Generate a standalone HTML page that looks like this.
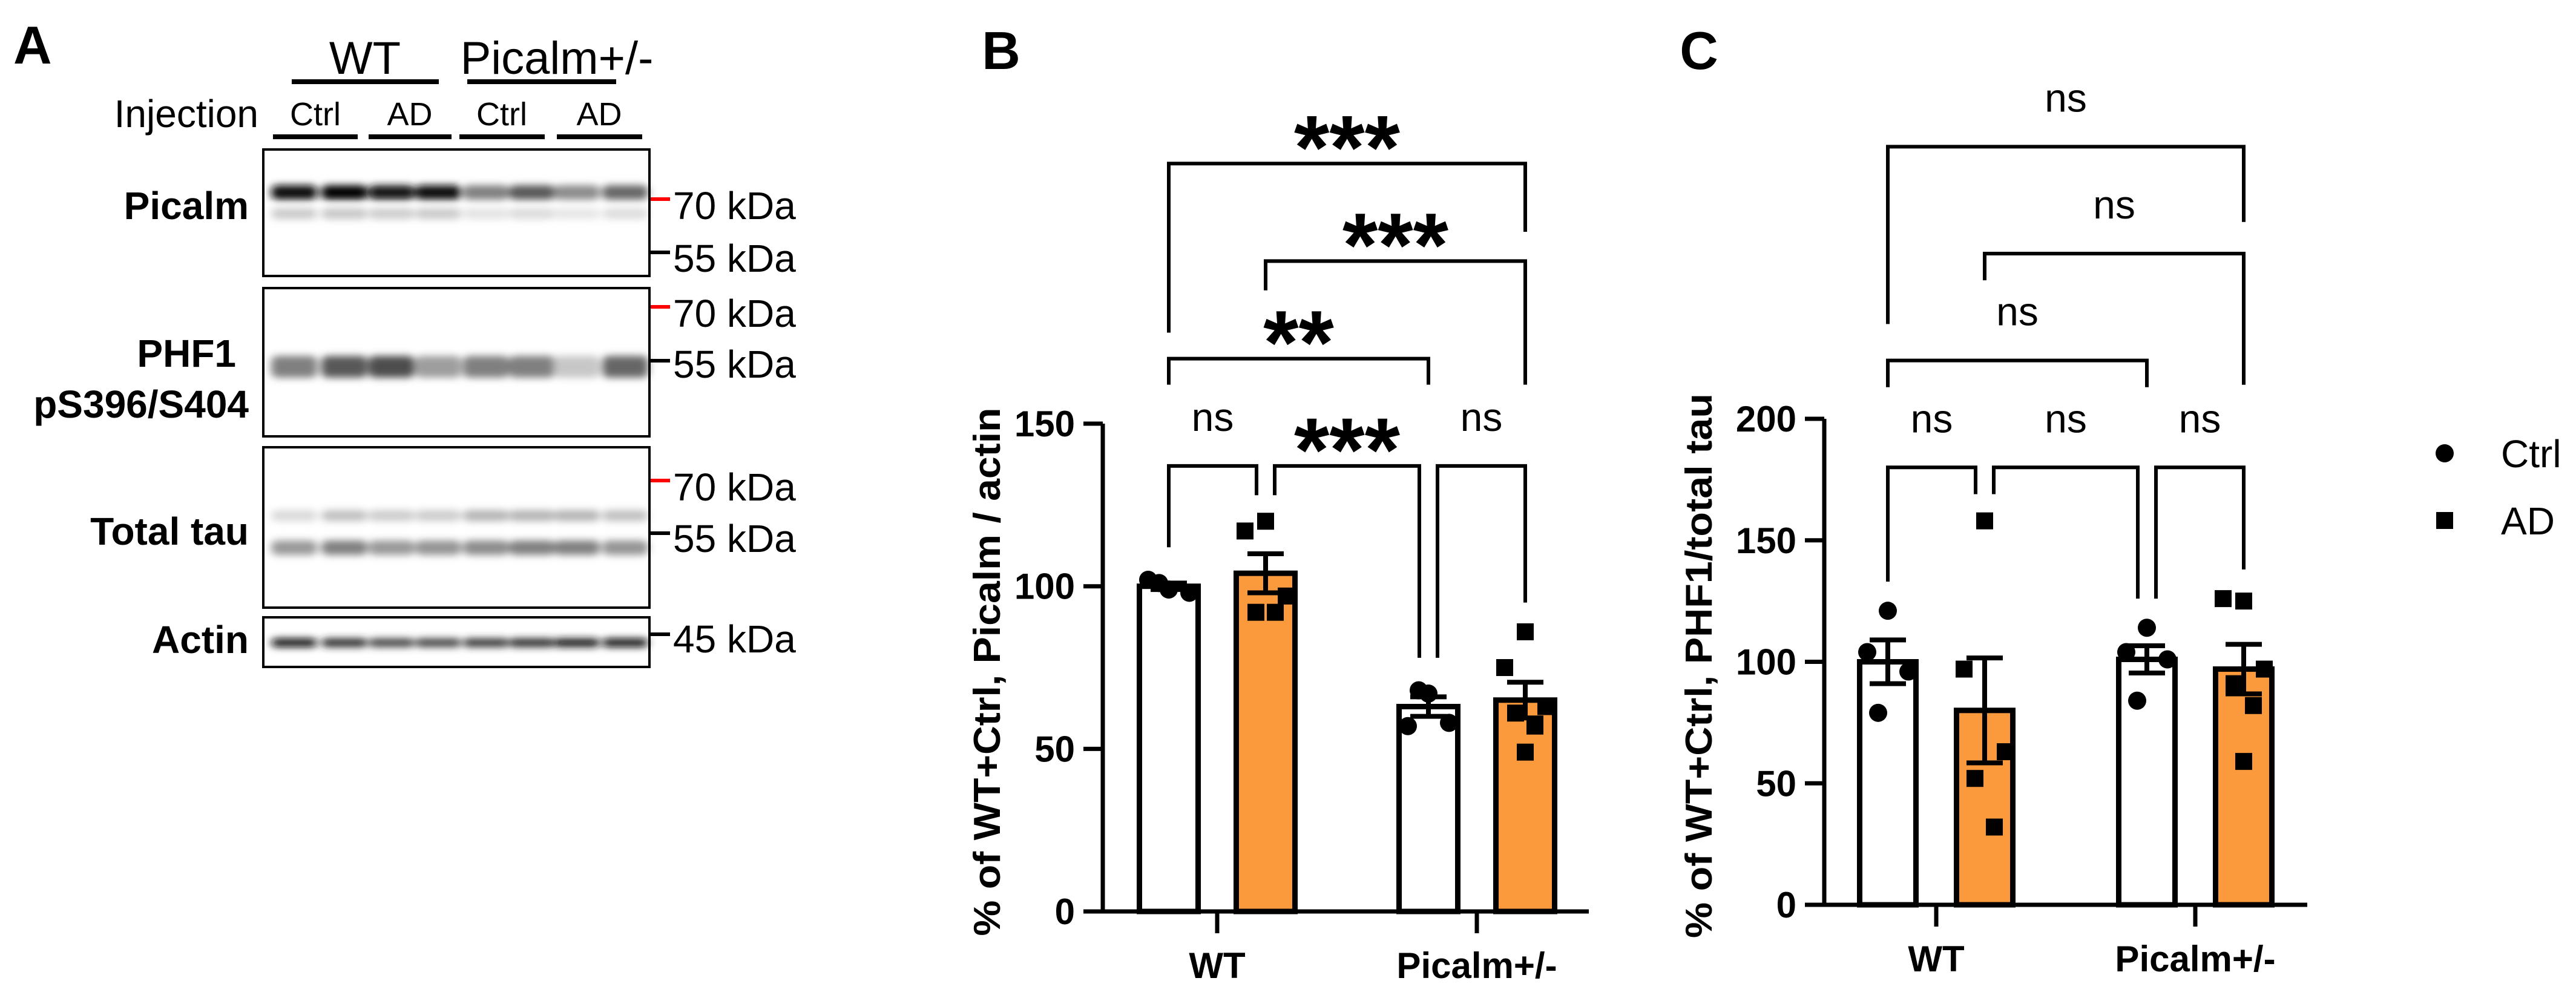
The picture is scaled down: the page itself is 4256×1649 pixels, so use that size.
<!DOCTYPE html>
<html><head><meta charset="utf-8"><style>
html,body{margin:0;padding:0;background:#fff;}
svg{display:block;font-family:"Liberation Sans",sans-serif;}
</style></head><body>
<svg id="fig" width="4256" height="1649" viewBox="0 0 4256 1649" xmlns="http://www.w3.org/2000/svg">
<defs>
<filter id="blur" x="-20%" y="-100%" width="140%" height="300%"><feGaussianBlur stdDeviation="7 6"/></filter>
</defs>
<g id="panelA">
<text x="22" y="105" font-size="88" font-weight="bold">A</text>
<text x="603" y="122" font-size="76" text-anchor="middle">WT</text>
<text x="920" y="122" font-size="76" text-anchor="middle">Picalm+/-</text>
<rect x="482" y="131" width="243" height="8" fill="#000"/>
<rect x="772" y="131" width="246" height="8" fill="#000"/>
<text x="427" y="210" font-size="64" text-anchor="end">Injection</text>
<g font-size="54" text-anchor="middle">
<text x="521" y="207">Ctrl</text>
<text x="677" y="207">AD</text>
<text x="829" y="207">Ctrl</text>
<text x="990" y="207">AD</text>
</g>
<rect x="451" y="222" width="140" height="8" fill="#000"/>
<rect x="609" y="222" width="137" height="8" fill="#000"/>
<rect x="759" y="222" width="141" height="8" fill="#000"/>
<rect x="920" y="222" width="141" height="8" fill="#000"/>
<g id="bands" filter="url(#blur)"></g>
<g fill="none" stroke="#000" stroke-width="4">
<rect x="435" y="247" width="638" height="209"/>
<rect x="435" y="476" width="638" height="245"/>
<rect x="435" y="739" width="638" height="265"/>
<rect x="435" y="1020" width="638" height="82"/>
</g>
<g font-size="64" font-weight="bold" text-anchor="end">
<text x="411" y="362">Picalm</text>
<text x="390" y="606">PHF1</text>
<text x="411" y="690">pS396/S404</text>
<text x="411" y="900">Total tau</text>
<text x="411" y="1079">Actin</text>
</g>
<g stroke-width="6">
<line x1="1075" y1="329" x2="1107" y2="329" stroke="#f00"/>
<line x1="1075" y1="417" x2="1107" y2="417" stroke="#000"/>
<line x1="1075" y1="507" x2="1107" y2="507" stroke="#f00"/>
<line x1="1075" y1="596" x2="1107" y2="596" stroke="#000"/>
<line x1="1075" y1="794" x2="1107" y2="794" stroke="#f00"/>
<line x1="1075" y1="881" x2="1107" y2="881" stroke="#000"/>
<line x1="1075" y1="1048" x2="1107" y2="1048" stroke="#000"/>
</g>
<g font-size="64">
<text x="1112" y="362">70 kDa</text>
<text x="1112" y="449">55 kDa</text>
<text x="1112" y="540">70 kDa</text>
<text x="1112" y="624">55 kDa</text>
<text x="1112" y="827">70 kDa</text>
<text x="1112" y="912">55 kDa</text>
<text x="1112" y="1078">45 kDa</text>
</g>
</g>
<text x="1654" y="114" font-size="88" font-weight="bold" text-anchor="middle">B</text>
<text x="2807" y="114" font-size="88" font-weight="bold" text-anchor="middle">C</text>
<g id="chartB"></g>
<g id="chartC"></g>
<g id="legend">
<circle cx="4039" cy="749" r="15" fill="#000"/>
<text x="4132" y="772" font-size="64">Ctrl</text>
<rect x="4025" y="846" width="28" height="28" fill="#000"/>
<text x="4132" y="883" font-size="64">AD</text>
</g>
</svg>
<script>
// ---------- Blot band intensities (per lane) ----------
const laneCenters = [486, 569, 647, 724, 803, 879, 953, 1033];
const picalmBand = [0.95, 1.0, 0.9, 0.95, 0.5, 0.65, 0.45, 0.6];
const phf1Band = [0.5, 0.65, 0.7, 0.38, 0.5, 0.5, 0.22, 0.6];
const tauUpper = [0.15, 0.25, 0.2, 0.2, 0.3, 0.3, 0.3, 0.25];
const tauLower = [0.4, 0.5, 0.4, 0.42, 0.45, 0.5, 0.5, 0.42];
const actinBand = [0.95, 0.85, 0.75, 0.75, 0.8, 0.85, 0.9, 0.95];

// ---------- Chart B data ----------
const groups = ["WT", "Picalm+/-"];
const meansB = [100, 104, 63, 65];
const semB = [1, 6, 3, 5.5];
const ptsB = [[99, 102, 98, 101], [120, 117, 97, 92, 92], [67, 57, 58, 68], [86, 75, 63, 61, 57, 49]];
const ticksB = [0, 50, 100, 150];
// brackets: [barFrom, barTo, level, leftLegEnd, rightLegEnd, label]
const bracketsB = [[0, 3, 230, 178, 209, "***"], [1, 3, 200, 191, 162, "***"], [0, 2, 170, 162, 162, "**"], [0, 1, 137, 112, 128, "ns"], [1, 2, 137, 128, 78, "***"], [2, 3, 137, 78, 95, "ns"]];

// ---------- Chart C data ----------
const meansC = [100, 80, 101, 97];
const semC = [9, 21.6, 5.6, 10.2];
const ptsC = [[121, 104, 96, 79], [158, 97, 63, 52, 32], [114, 104, 101, 84], [125, 126, 97, 91, 82, 59]];
const ticksC = [0, 50, 100, 150, 200];
const bracketsC = [[0, 3, 312, 239, 281, "ns"], [1, 3, 268, 257, 214, "ns"], [0, 2, 224, 213, 213, "ns"], [0, 1, 180, 133, 169, "ns"], [1, 2, 180, 169, 126, "ns"], [2, 3, 180, 126, 138, "ns"]];

const NS = "http://www.w3.org/2000/svg";
function mk(tag, attrs, parent) {
  const e = document.createElementNS(NS, tag);
  for (const k in attrs) e.setAttribute(k, attrs[k]);
  parent.appendChild(e);
  return e;
}

const bandsG = document.getElementById("bands");
function bandRow(vals, cy, h, name) {
  vals.forEach((v, i) => {
    const g = Math.round(255 * (1 - v));
    const r = mk("rect", {x: laneCenters[i] - 38, y: cy - h / 2, width: 76, height: h, rx: 10, fill: `rgb(${g},${g},${g})`}, bandsG);
    
    
  });
}
bandRow(picalmBand, 318, 24, "picalm-band");
bandRow(picalmBand.map(v => v * 0.22), 353, 18, "picalm-lower-band");
bandRow(phf1Band, 606, 36, "phf1-band");
bandRow(tauUpper, 852, 18, "tau-upper-band");
bandRow(tauLower, 905, 24, "tau-lower-band");
bandRow(actinBand, 1062, 14, "actin-band");

const jitter = [0, -34, 34, -16, 16, 0];

function drawChart(gid, cfg) {
  const G = document.getElementById(gid);
  const y = v => cfg.y0 - v * cfg.k;
  const barX = i => cfg.gc[Math.floor(i / 2)] + (i % 2 === 0 ? -80 : 80);
  cfg.means.forEach((m, i) => {
    const b = mk("rect", {x: barX(i) - cfg.bw / 2 + 4.5, y: y(m), width: cfg.bw - 9, height: cfg.y0 - y(m), fill: i % 2 ? "#fb9a3c" : "#fff", stroke: "#000", "stroke-width": 9}, G);
    
    
  });
  cfg.pts.forEach((arr, i) => {
    arr.forEach((v, j) => {
      const cx = barX(i) + jitter[j];
      let p;
      if (i % 2 === 0) p = mk("circle", {cx: cx, cy: y(v), r: 15, fill: "#000"}, G);
      else p = mk("rect", {x: cx - 14, y: y(v) - 14, width: 28, height: 28, fill: "#000"}, G);
      
      
    });
  });
  cfg.means.forEach((m, i) => {
    const cx = barX(i), s = cfg.sem[i];
    const e = mk("path", {d: `M${cx} ${y(m + s)}V${y(m - s)}M${cx - 30} ${y(m + s)}H${cx + 30}M${cx - 30} ${y(m - s)}H${cx + 30}`, stroke: "#000", "stroke-width": 8, fill: "none"}, G);
    
    
  });
  const ax = mk("path", {d: `M${cfg.ax} ${y(cfg.ticks[cfg.ticks.length - 1])}V${cfg.y0}H${cfg.xEnd}`, stroke: "#000", "stroke-width": 7, fill: "none"}, G);
  
  
  cfg.ticks.forEach(t => {
    const tk = mk("line", {x1: cfg.ax - 32, x2: cfg.ax, y1: y(t), y2: y(t), stroke: "#000", "stroke-width": 7}, G);
    
    
    const tl = mk("text", {x: cfg.ax - 46, y: y(t) + 21, "font-size": 60, "font-weight": "bold", "text-anchor": "end"}, G);
    tl.textContent = t;
    
    
  });
  groups.forEach((g, i) => {
    const tk = mk("line", {x1: cfg.gc[i], x2: cfg.gc[i], y1: cfg.y0, y2: cfg.y0 + 36, stroke: "#000", "stroke-width": 7}, G);
    
    
    const tl = mk("text", {x: cfg.gc[i], y: cfg.y0 + 110, "font-size": 60, "font-weight": "bold", "text-anchor": "middle"}, G);
    tl.textContent = g;
    
    
  });
  const yt = mk("text", {x: 0, y: 0, "font-size": 62, "font-weight": "bold", "text-anchor": "middle", transform: `translate(${cfg.titleX},${cfg.titleY}) rotate(-90)`, textLength: cfg.titleLen, lengthAdjust: "spacingAndGlyphs"}, G);
  yt.textContent = cfg.title;
  
  
  cfg.brackets.forEach(b => {
    const x1 = barX(b[0]) + (b[0] === 1 && b[1] === 2 ? 15 : 0) + (b[0] === 2 && b[1] === 3 ? 15 : 0);
    const x2 = barX(b[1]) - (b[0] === 0 && b[1] === 1 ? 15 : 0) - (b[0] === 1 && b[1] === 2 ? 15 : 0);
    const p = mk("path", {d: `M${x1} ${y(b[3])}V${y(b[2])}H${x2}V${y(b[4])}`, stroke: "#000", "stroke-width": 6, fill: "none"}, G);
    
    
    const star = b[5] !== "ns";
    const t = mk("text", {x: (x1 + x2) / 2, y: y(b[2]) - (star ? -25 : 58), "font-size": star ? 150 : 66, "font-weight": star ? "bold" : "normal", "text-anchor": "middle"}, G);
    t.textContent = b[5];
    
    
  });
}

drawChart("chartB", {y0: 1506, k: 5.373, ax: 1822, xEnd: 2625, gc: [2011, 2440], bw: 106,
  means: meansB, sem: semB, pts: ptsB, ticks: ticksB, brackets: bracketsB,
  title: "% of WT+Ctrl, Picalm / actin", titleX: 1652, titleY: 1110, titleLen: 873});
drawChart("chartC", {y0: 1495, k: 4.015, ax: 3014, xEnd: 3812, gc: [3199, 3627], bw: 102,
  means: meansC, sem: semC, pts: ptsC, ticks: ticksC, brackets: bracketsC,
  title: "% of WT+Ctrl, PHF1/total tau", titleX: 2828, titleY: 1100, titleLen: 900});
</script>
</body></html>
